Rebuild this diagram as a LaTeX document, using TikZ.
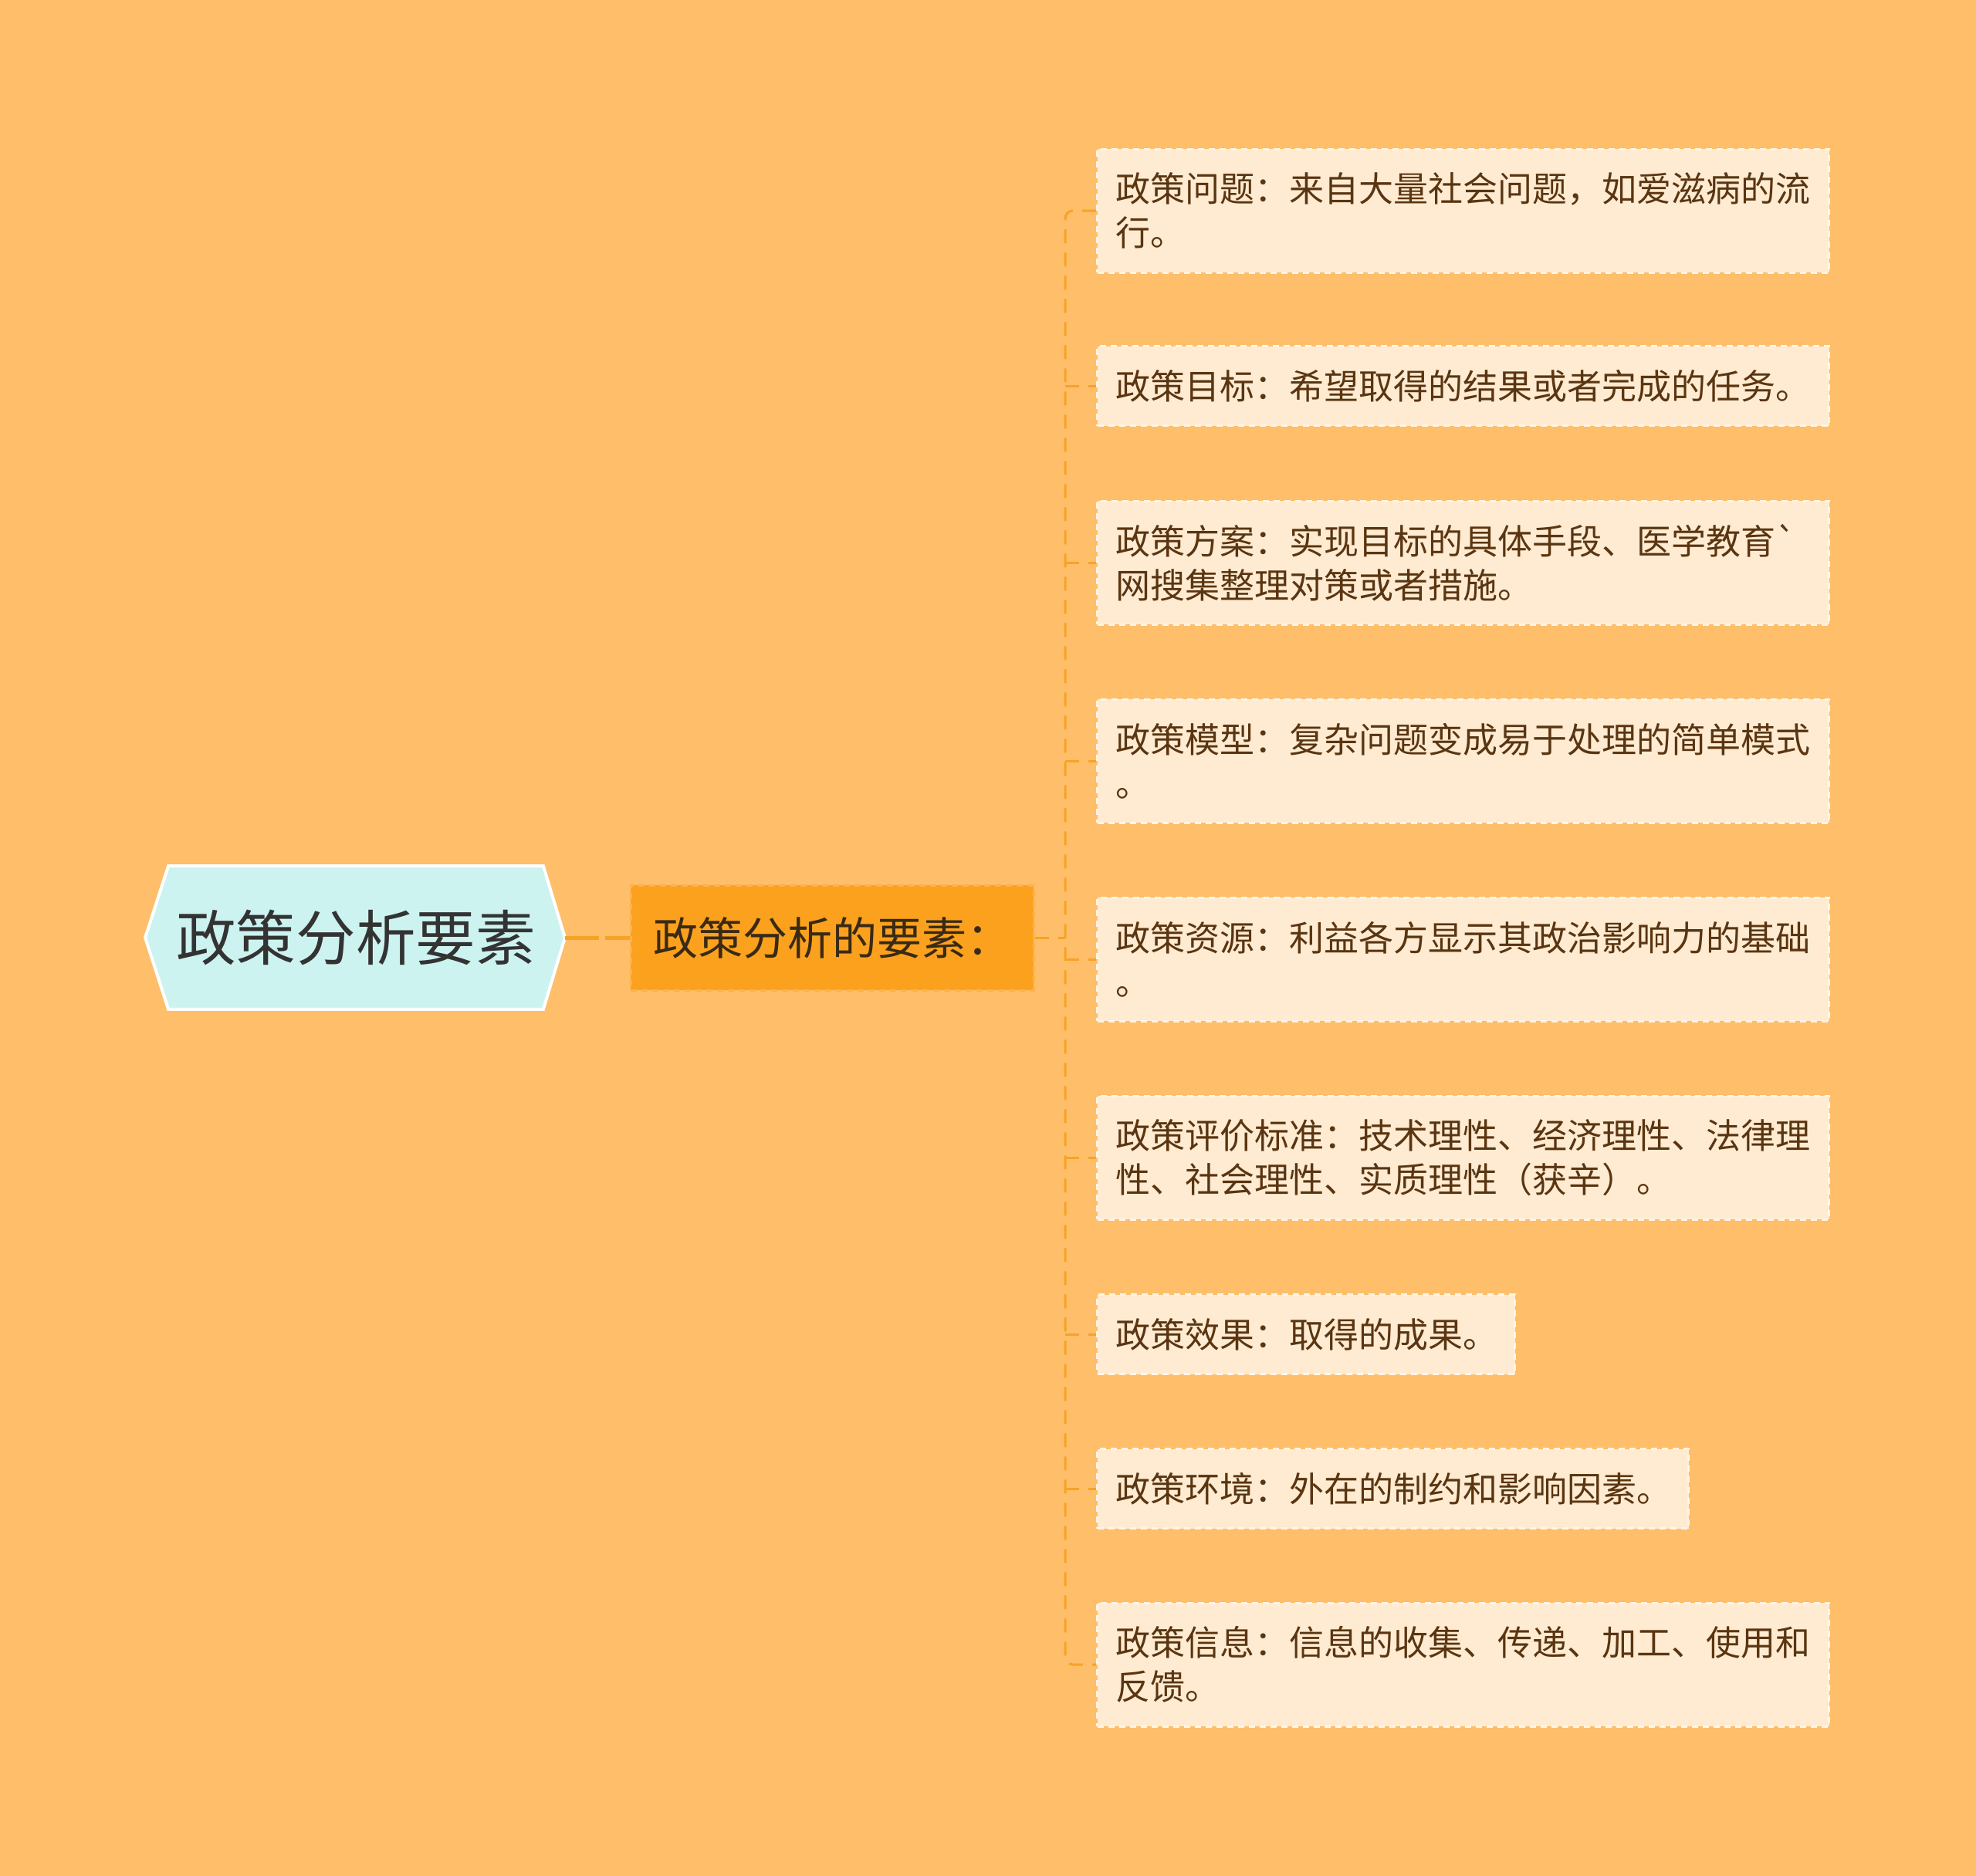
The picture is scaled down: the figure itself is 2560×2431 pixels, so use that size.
\documentclass[tikz,border=0pt]{standalone}
\usepackage{fontspec}
\setmainfont{Noto Sans CJK SC}
\usepackage{tikz}
\usetikzlibrary{backgrounds}

\definecolor{bgorange}{HTML}{FEBE6A}
\definecolor{midorange}{HTML}{FBA11E}
\definecolor{midedge}{HTML}{FDB24A}
\definecolor{leafcream}{HTML}{FFEBD1}
\definecolor{leafedge}{HTML}{FFF5E6}
\definecolor{linkorange}{HTML}{F7A325}
\definecolor{rootcyan}{HTML}{CDF3F0}
\definecolor{leaftext}{HTML}{5A3511}
\definecolor{midtext}{HTML}{3A2A14}

\tikzset{
  rootbox/.style={inner sep=0pt, minimum width=242.5pt, minimum height=92.5pt,
    text=black!80, font=\fontsize{38.8pt}{44pt}\selectfont},
  rootshape/.style={fill=rootcyan, draw=white, line width=2pt},
  midbox/.style={fill=midorange, draw=midedge, dash pattern=on 4pt off 3pt, line width=1.5pt,
    inner sep=0pt, minimum width=261pt, minimum height=68pt,
    text=midtext, font=\fontsize{29pt}{33pt}\selectfont},
  leafbox/.style={anchor=west, fill=leafcream, draw=leafedge, dash pattern=on 4pt off 3pt,
    line width=1.5pt, inner xsep=12pt, inner ysep=0pt, align=left,
    text=leaftext, font=\fontsize{22.5pt}{28.5pt}\selectfont},
  link/.style={draw=linkorange, line width=2.5pt, dash pattern=on 22pt off 4pt},
  spine/.style={draw=linkorange, line width=1.5pt, dash pattern=on 9pt off 6pt}
}

\begin{document}
\begin{tikzpicture}[x=0.5pt, y=-0.5pt]
  \useasboundingbox (0,0) rectangle (2560,2431);

  \node[rootbox] (root) at (461,1215) {政策分析要素};
  \begin{scope}[on background layer]
    \fill[bgorange] (0,0) rectangle (2560,2431);
    \draw[rootshape] ([xshift=-15pt]root.west) -- (root.north west) -- (root.north east)
      -- ([xshift=14pt]root.east) -- (root.south east) -- (root.south west) -- cycle;
  \end{scope}
  \coordinate (roottip) at ([xshift=14pt]root.east);

  \node[midbox] (mid) at (1078,1215) {政策分析的要素：};

  \node[leafbox, text width=450pt, minimum height=80pt] (c1) at (1420,273)
    {政策问题：来自大量社会问题，如爱滋病的流\\行。};
  \node[leafbox, text width=450pt, minimum height=51.5pt] (c2) at (1420,500)
    {政策目标：希望取得的结果或者完成的任务。};
  \node[leafbox, text width=450pt, minimum height=80pt] (c3) at (1420,729)
    {政策方案：实现目标的具体手段、医学教育\textasciigrave\\网搜集整理对策或者措施。};
  \node[leafbox, text width=450pt, minimum height=80pt] (c4) at (1420,986)
    {政策模型：复杂问题变成易于处理的简单模式\\。};
  \node[leafbox, text width=450pt, minimum height=80pt] (c5) at (1420,1243)
    {政策资源：利益各方显示其政治影响力的基础\\。};
  \node[leafbox, text width=450pt, minimum height=80pt] (c6) at (1420,1500)
    {政策评价标准：技术理性、经济理性、法律理\\性、社会理性、实质理性（获辛）。};
  \node[leafbox, text width=246.5pt, minimum height=51.5pt] (c7) at (1420,1729)
    {政策效果：取得的成果。};
  \node[leafbox, text width=359pt, minimum height=51.5pt] (c8) at (1420,1929)
    {政策环境：外在的制约和影响因素。};
  \node[leafbox, text width=450pt, minimum height=80pt] (c9) at (1420,2157)
    {政策信息：信息的收集、传递、加工、使用和\\反馈。};

  \coordinate (fork) at (1380,1215);
  \draw[link] (roottip) -- (mid.west);
  \draw[spine] (mid.east) -- (fork);
  \draw[spine, rounded corners=5pt] (c1.west) -- (c1.west -| fork) -- (c9.west -| fork) -- (c9.west);
  \foreach \i in {2,...,8}
    \draw[spine] (c\i.west -| fork) -- (c\i.west);
\end{tikzpicture}
\end{document}
